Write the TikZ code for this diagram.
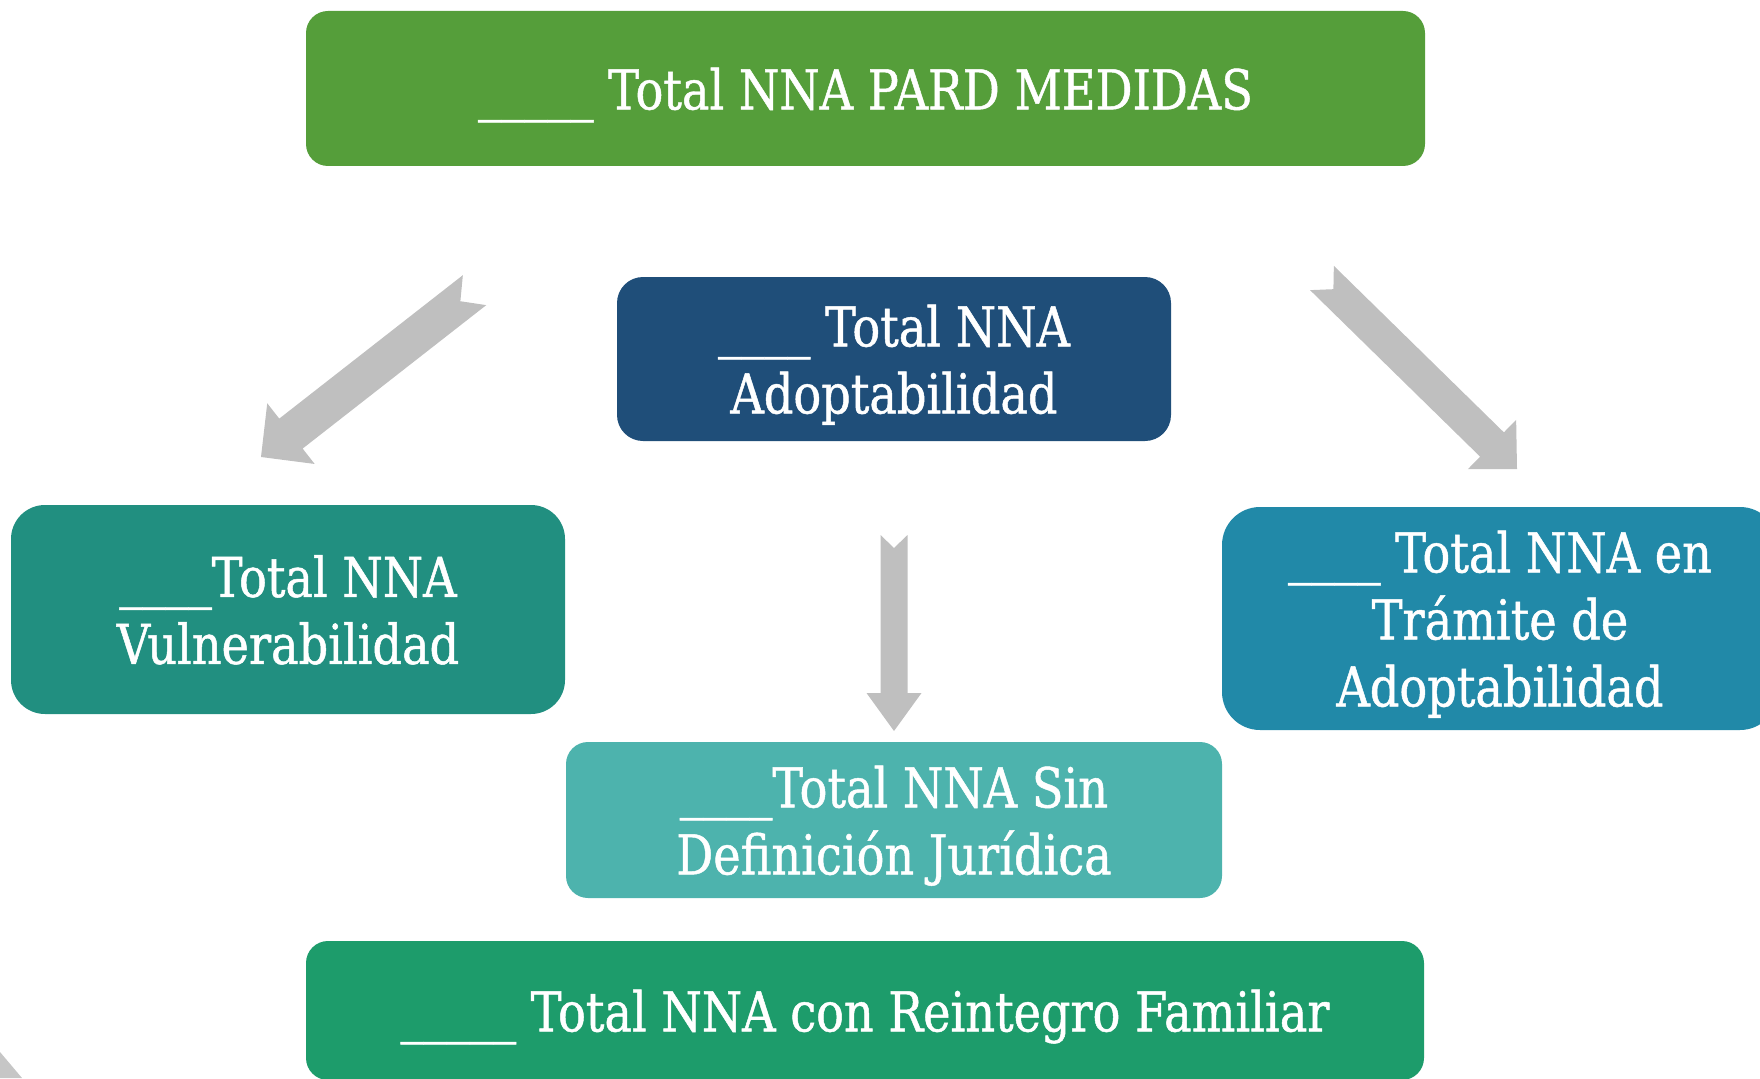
\documentclass[tikz,border=0pt]{standalone}
\usepackage{fontspec}
\setmainfont{DejaVu Serif}[FakeStretch=0.84, FakeBold=0.9]
\definecolor{cTop}{HTML}{559E3A}
\definecolor{cAdopt}{HTML}{1F4E79}
\definecolor{cVuln}{HTML}{218F80}
\definecolor{cTram}{HTML}{2189A8}
\definecolor{cSin}{HTML}{4DB3AD}
\definecolor{cReint}{HTML}{1D9C6B}
\definecolor{cArrow}{HTML}{BFBFBF}
\tikzset{
  box/.style={draw=none, inner sep=0pt, text=white, align=center, text depth=0pt,
    font=\fontsize{55}{67}\selectfont},
  garrow/.style={fill=cArrow, draw=none},
}
\begin{document}
\begin{tikzpicture}[x=1pt,y=-1pt]
\useasboundingbox (0,0) rectangle (1760,1078);
% boxes
\node[box, fill=cTop, rounded corners=22pt, minimum width=1119pt, minimum height=155pt] (top) at (865.5,88.5) {\_\_\_\_\_ Total NNA PARD MEDIDAS};
\node[box, fill=cAdopt, rounded corners=26pt, minimum width=554pt, minimum height=164pt] (adopt) at (894,359) {\_\_\_\_ Total NNA\\Adoptabilidad};
\node[box, fill=cVuln, rounded corners=34pt, minimum width=554pt, minimum height=209pt] (vuln) at (288,609.5) {\_\_\_\_Total NNA\\Vulnerabilidad};
\node[box, fill=cTram, rounded corners=38pt, minimum width=556pt, minimum height=223pt] (tram) at (1500,618.5) {\_\_\_\_ Total NNA en\\Trámite de\\Adoptabilidad};
\node[box, fill=cSin, rounded corners=22pt, minimum width=656pt, minimum height=156pt] (sin) at (894,820) {\_\_\_\_Total NNA Sin\\Definición Jurídica};
\node[box, fill=cReint, rounded corners=22pt, minimum width=1118pt, minimum height=139pt] (reint) at (865,1010.5) {\_\_\_\_\_ Total NNA con Reintegro Familiar};
% arrows
\coordinate (tipL) at (261,457);
\coordinate (tipR) at (1517,469);
\coordinate (tipD) at (894,731);
\begin{scope}[shift={(tipL)}, rotate=218]
  \fill[garrow] (0,0) -- (-38,38.5) -- (-38,19) -- (-271,19) -- (-253,0) -- (-271,-19) -- (-38,-19) -- (-38,-38.5) -- cycle;
\end{scope}
\begin{scope}[shift={(tipR)}, rotate=-44.4]
  \fill[garrow] (0,0) -- (-35,34.5) -- (-35,17) -- (-273,17) -- (-257,0) -- (-273,-17) -- (-35,-17) -- (-35,-34.5) -- cycle;
\end{scope}
\begin{scope}[shift={(tipD)}, rotate=-90]
  \fill[garrow] (0,0) -- (-38,27.5) -- (-38,13.5) -- (-196,13.5) -- (-183,0) -- (-196,-13.5) -- (-38,-13.5) -- (-38,-27.5) -- cycle;
\end{scope}
% corner fragment
\fill[gray!45] (0,1052) -- (22,1078) -- (0,1078) -- cycle;
\end{tikzpicture}
\end{document}
